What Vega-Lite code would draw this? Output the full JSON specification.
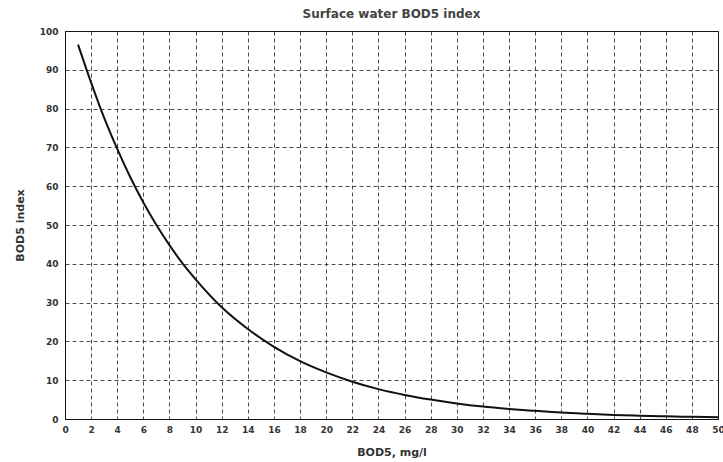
{
  "$schema": "https://vega.github.io/schema/vega-lite/v6.json",
  "autosize": {"type": "none"},
  "padding": {"left": 65, "top": 31, "right": 5, "bottom": 43},
  "width": 653,
  "height": 388,
  "background": "white",
  "title": {"text": "Surface water BOD5 index", "font": "DejaVu Sans", "fontSize": 12, "fontWeight": "bold", "color": "#444", "anchor": "middle", "offset": 6, "limit": 0},
  "config": {
    "view": {"stroke": "#111", "strokeWidth": 1},
    "axis": {
      "labelFont": "DejaVu Sans", "labelFontSize": 9, "labelFontWeight": "bold", "labelColor": "#333",
      "titleFont": "DejaVu Sans", "titleFontSize": 11, "titleFontWeight": "bold", "titleColor": "#333",
      "grid": true, "gridColor": "#222", "gridDash": [4, 3], "gridWidth": 0.9, "gridOpacity": 0.9,
      "domainColor": "#111", "ticks": false
    }
  },
  "data": {"values": [
    {"x": 1, "y": 96.5}, {"x": 2, "y": 86.7}, {"x": 3, "y": 77.6}, {"x": 4, "y": 69.6},
    {"x": 5, "y": 62.3}, {"x": 6, "y": 55.8}, {"x": 7, "y": 50.0}, {"x": 8, "y": 44.8},
    {"x": 9, "y": 40.1}, {"x": 10, "y": 36.0}, {"x": 12, "y": 28.8}, {"x": 14, "y": 23.2},
    {"x": 16, "y": 18.6}, {"x": 18, "y": 14.9}, {"x": 20, "y": 12.0}, {"x": 22, "y": 9.6},
    {"x": 24, "y": 7.7}, {"x": 26, "y": 6.2}, {"x": 28, "y": 5.0}, {"x": 30, "y": 4.0},
    {"x": 32, "y": 3.2}, {"x": 34, "y": 2.6}, {"x": 36, "y": 2.1}, {"x": 38, "y": 1.65},
    {"x": 40, "y": 1.33}, {"x": 42, "y": 1.06}, {"x": 44, "y": 0.85}, {"x": 46, "y": 0.68},
    {"x": 48, "y": 0.55}, {"x": 50, "y": 0.44}
  ]},
  "mark": {"type": "line", "color": "#111", "strokeWidth": 2, "interpolate": "monotone"},
  "encoding": {
    "x": {"field": "x", "type": "quantitative", "title": "BOD5, mg/l",
      "scale": {"domain": [0, 50], "nice": false},
      "axis": {"values": [0,2,4,6,8,10,12,14,16,18,20,22,24,26,28,30,32,34,36,38,40,42,44,46,48,50], "labelPadding": 6, "titlePadding": 12, "labelFlush": false}},
    "y": {"field": "y", "type": "quantitative", "title": "BOD5 index",
      "scale": {"domain": [0, 100], "nice": false},
      "axis": {"values": [0,10,20,30,40,50,60,70,80,90,100], "labelPadding": 7, "titlePadding": 14}}
  }
}
